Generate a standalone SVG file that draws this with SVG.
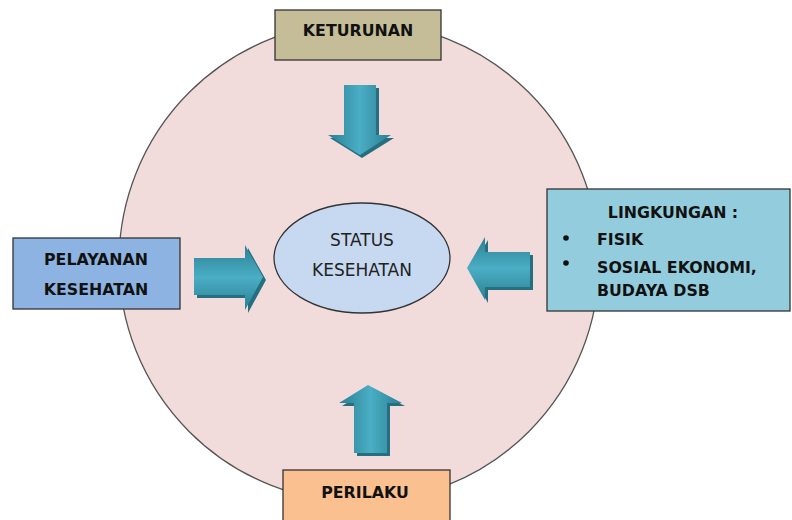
<svg xmlns="http://www.w3.org/2000/svg" width="792" height="520" viewBox="0 0 792 520">
<defs>
<style>
.lbl{font-family:"DejaVu Sans","Liberation Sans",sans-serif;font-weight:bold;font-size:15.8px;fill:#111}
.reg{font-family:"DejaVu Sans","Liberation Sans",sans-serif;font-size:17px;fill:#222}
.box{stroke:#333;stroke-width:1.3}
.arr{stroke:none}
</style>
<linearGradient id="gv" x1="0" y1="0" x2="1" y2="0">
<stop offset="0" stop-color="#2b7f93"/><stop offset="0.5" stop-color="#4aaec4"/><stop offset="1" stop-color="#2b7f93"/>
</linearGradient>
<linearGradient id="gh" x1="0" y1="0" x2="0" y2="1">
<stop offset="0" stop-color="#2b7f93"/><stop offset="0.5" stop-color="#4aaec4"/><stop offset="1" stop-color="#2b7f93"/>
</linearGradient>
</defs>
<rect width="792" height="520" fill="#ffffff"/>
<g id="circle">
<circle cx="359" cy="262" r="240" fill="#f2dcdb" stroke="#555" stroke-width="1.3"/>
</g>
<g id="connectors">
<path class="arr" d="M347,88 H379 V138 H394 L362,158 L330,138 H347 Z" fill="#256f80"/>
<path class="arr" d="M344,85 H376 V135 H391 L360,155 L328,135 H344 Z" fill="url(#gv)"/>
<path class="arr" d="M197,261 H248 V248 L266,280 L248,313 V298 H197 Z" fill="#256f80"/>
<path class="arr" d="M194,258 H245 V245 L263,277 L245,310 V295 H194 Z" fill="url(#gh)"/>
<path class="arr" d="M533,255 H488 V240 L470,271 L488,303 V290 H533 Z" fill="#256f80"/>
<path class="arr" d="M530,252 H485 V237 L467,268 L485,300 V287 H530 Z" fill="url(#gh)"/>
<path class="arr" d="M357,456 H390 V406 H405 L371,388 L342,406 H357 Z" fill="#256f80"/>
<path class="arr" d="M354,453 H387 V403 H402 L368,385 L339,403 H354 Z" fill="url(#gv)"/>
</g>
<g id="keturunan">
<rect class="box" x="275" y="10" width="166" height="50" fill="#c4bd97"/>
<text class="lbl" x="358" y="36" text-anchor="middle">KETURUNAN</text>
</g>
<g id="pelayanan">
<rect class="box" x="13" y="238" width="167" height="71" fill="#8db3e2"/>
<text class="lbl" x="96" y="265" text-anchor="middle">PELAYANAN</text>
<text class="lbl" x="96" y="295" text-anchor="middle">KESEHATAN</text>
</g>
<g id="lingkungan">
<rect class="box" x="547" y="189" width="243" height="122" fill="#93cddd"/>
<text class="lbl" x="673" y="218" text-anchor="middle">LINGKUNGAN :</text>
<circle cx="566" cy="238" r="2.8" fill="#111"/>
<text class="lbl" x="597" y="245">FISIK</text>
<circle cx="566" cy="263" r="2.8" fill="#111"/>
<text class="lbl" x="597" y="273">SOSIAL EKONOMI,</text>
<text class="lbl" x="597" y="296">BUDAYA DSB</text>
</g>
<g id="perilaku">
<rect class="box" x="283" y="470" width="167" height="52" fill="#fac090"/>
<text class="lbl" x="365" y="498" text-anchor="middle">PERILAKU</text>
</g>
<g id="status">
<ellipse cx="362" cy="258" rx="88" ry="55" fill="#c6d9f1" stroke="#333" stroke-width="1.3"/>
<text class="reg" x="362" y="246" text-anchor="middle">STATUS</text>
<text class="reg" x="362" y="276" text-anchor="middle">KESEHATAN</text>
</g>
</svg>
